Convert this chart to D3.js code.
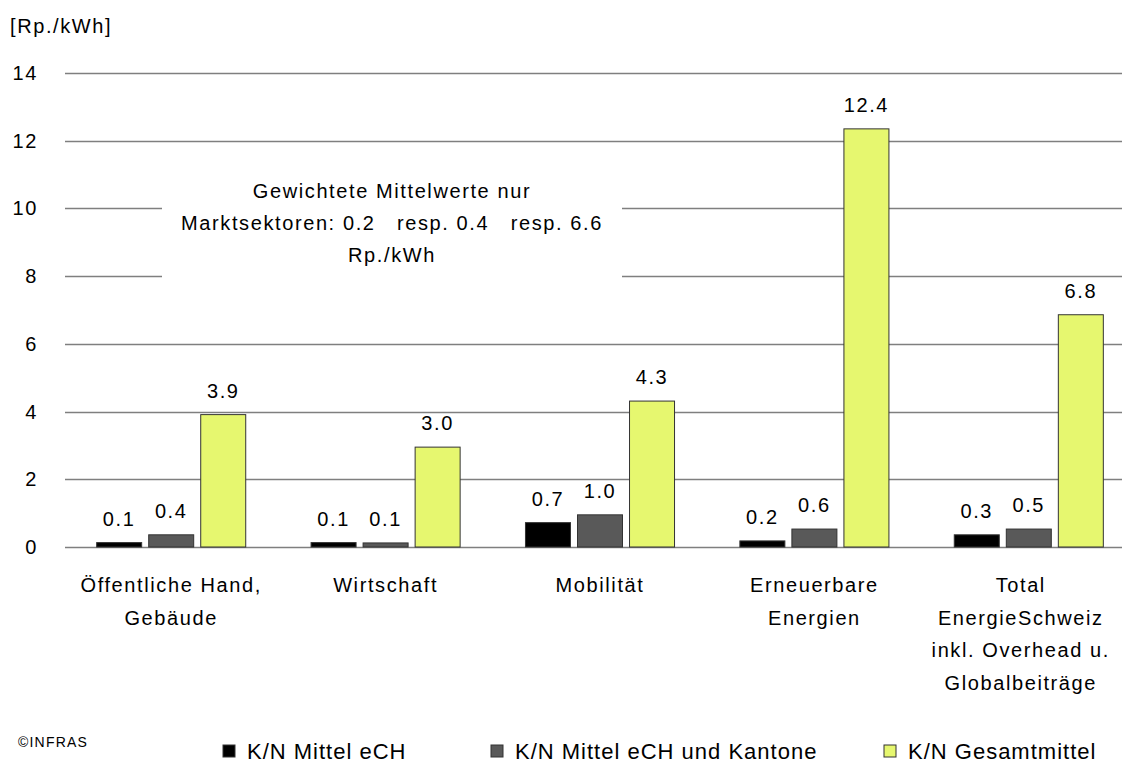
<!DOCTYPE html>
<html>
<head>
<meta charset="utf-8">
<script src="https://cdn.jsdelivr.net/npm/d3@7"></script>
<style>
  body { margin: 0; background: #fff; }
  svg { font-family: 'Liberation Sans', Arial, sans-serif; }
  svg text { letter-spacing: 1.6px; }
</style>
</head>
<body>
<div id="chart"></div>
<script>
'use strict'

// categories (multi-line labels)
const categories = [
  ['Öffentliche Hand,', 'Gebäude'],
  ['Wirtschaft'],
  ['Mobilität'],
  ['Erneuerbare', 'Energien'],
  ['Total', 'EnergieSchweiz', 'inkl. Overhead u.', 'Globalbeiträge']
]
const seriesNames = ['K/N Mittel eCH', 'K/N Mittel eCH und Kantone', 'K/N Gesamtmittel']
const seriesColors = ['#000000', '#595959', '#e6f76f']

// bar heights as drawn, and the printed labels
const mittelECH = [0.13, 0.13, 0.72, 0.18, 0.36]
const mittelKantone = [0.36, 0.12, 0.95, 0.53, 0.53]
const gesamtmittel = [3.91, 2.95, 4.31, 12.35, 6.86]
const labelsECH = ['0.1', '0.1', '0.7', '0.2', '0.3']
const labelsKantone = ['0.4', '0.1', '1.0', '0.6', '0.5']
const labelsGesamt = ['3.9', '3.0', '4.3', '12.4', '6.8']
const yTicks = [0, 2, 4, 6, 8, 10, 12, 14]

const note = ['Gewichtete Mittelwerte nur', 'Marktsektoren: 0.2   resp. 0.4   resp. 6.6', 'Rp./kWh']

const values = [mittelECH, mittelKantone, gesamtmittel]
const labels = [labelsECH, labelsKantone, labelsGesamt]

const width = 1133, height = 763
const margin = {left: 65, right: 11, top: 73, bottom: 216}

const svg = d3.select('#chart').append('svg')
  .attr('width', width)
  .attr('height', height)

const y = d3.scaleLinear().domain([0, 14]).range([height - margin.bottom, margin.top])
// category bands run a bit past the gridlines on the right, as in the original
const x0 = d3.scaleBand().domain(d3.range(categories.length))
  .range([64, 1136])
const x1 = d3.scaleBand().domain(d3.range(3))
  .range([0, x0.bandwidth()])
  .paddingInner(0.135)
  .paddingOuter(0.628)

// gridlines
svg.append('g')
  .selectAll('line')
  .data(yTicks)
  .enter().append('line')
  .attr('x1', margin.left)
  .attr('x2', width - margin.right)
  .attr('y1', d => Math.round(y(d)) + 0.5)
  .attr('y2', d => Math.round(y(d)) + 0.5)
  .attr('stroke', '#7f7f7f')
  .attr('stroke-width', 1.5)

// y tick labels
svg.append('g')
  .selectAll('text')
  .data(yTicks)
  .enter().append('text')
  .attr('x', 38)
  .attr('y', d => y(d) + 7)
  .attr('text-anchor', 'end')
  .style('font-size', '20px')
  .text(d => d)

svg.append('text')
  .attr('x', 10)
  .attr('y', 33)
  .style('font-size', '20px')
  .text('[Rp./kWh]')

// annotation with white background hiding gridlines
svg.append('rect')
  .attr('x', 162).attr('y', 178)
  .attr('width', 460).attr('height', 104)
  .attr('fill', '#fff')
svg.append('g')
  .selectAll('text')
  .data(note)
  .enter().append('text')
  .attr('x', 392)
  .attr('y', (d, i) => 198 + i * 32)
  .attr('text-anchor', 'middle')
  .style('font-size', '20px')
  .style('white-space', 'pre')
  .text(d => d)

// bars
const groups = svg.append('g')
  .selectAll('g')
  .data(categories.map((c, i) => i))
  .enter().append('g')
  .attr('transform', i => 'translate(' + x0(i) + ',0)')

groups.selectAll('rect')
  .data(i => values.map((v, s) => ({s: s, v: v[i], label: labels[s][i]})))
  .enter().append('rect')
  .attr('x', d => x1(d.s))
  .attr('y', d => y(d.v))
  .attr('width', x1.bandwidth())
  .attr('height', d => y(0) - y(d.v))
  .attr('fill', d => seriesColors[d.s])
  .attr('stroke', '#333')
  .attr('stroke-width', 1)

groups.selectAll('text.val')
  .data(i => values.map((v, s) => ({s: s, v: v[i], label: labels[s][i]})))
  .enter().append('text')
  .attr('class', 'val')
  .attr('x', d => x1(d.s) + x1.bandwidth() / 2)
  .attr('y', d => y(d.v) - 17)
  .attr('text-anchor', 'middle')
  .style('font-size', '20px')
  .text(d => d.label)

// category labels, pulled back inside the plot if they run past its right edge
const catLabels = svg.append('g')
  .selectAll('text')
  .data(categories)
  .enter().append('text')
  .attr('text-anchor', 'middle')
  .style('font-size', '20px')

catLabels.selectAll('tspan')
  .data(d => d)
  .enter().append('tspan')
  .attr('x', 0)
  .attr('y', (d, j) => j * 32.5)
  .text(d => d)

catLabels.attr('transform', function (d, i) {
  let cx = x0(i) + x0.bandwidth() / 2
  let w = this.getBBox().width
  cx = Math.min(cx, 1110 - w / 2)
  return 'translate(' + cx + ',592)'
})

// copyright
svg.append('text')
  .attr('x', 18)
  .attr('y', 747)
  .style('font-size', '14px')
  .style('letter-spacing', '1.2px')
  .text('©INFRAS')

// legend
const legendX = [223, 491, 884]
const legend = svg.append('g')
  .selectAll('g')
  .data(seriesNames)
  .enter().append('g')
  .attr('transform', (d, i) => 'translate(' + legendX[i] + ',752)')
legend.append('rect')
  .attr('x', 0).attr('y', -7)
  .attr('width', 12).attr('height', 12)
  .attr('fill', (d, i) => seriesColors[i])
  .attr('stroke', '#333')
legend.append('text')
  .attr('x', 24)
  .attr('y', 7)
  .style('font-size', '22px')
  .style('letter-spacing', '1px')
  .text(d => d)
</script>
</body>
</html>
